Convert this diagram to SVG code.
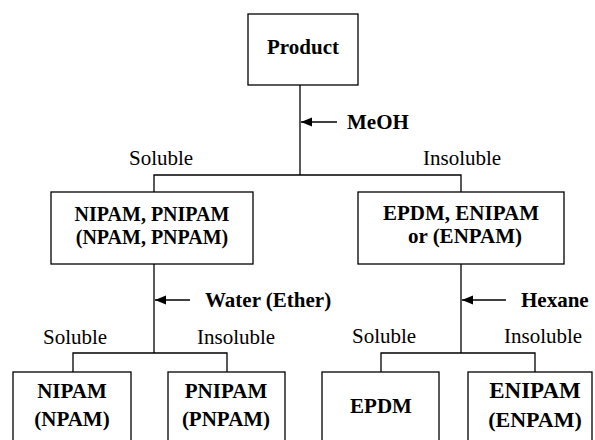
<svg xmlns="http://www.w3.org/2000/svg" width="595" height="440" viewBox="0 0 595 440">
<style>
.box{fill:#fff;stroke:#000;stroke-width:1.3}
.ln{fill:none;stroke:#000;stroke-width:1.3}
text{font-family:'Liberation Serif',Tinos,'Times New Roman',Times,'Noto Serif','DejaVu Serif',serif;font-size:21px;fill:#000}
.b{font-weight:bold;text-anchor:middle}
.bl{font-weight:bold}
</style>
<defs>
<marker id="ah" markerWidth="12" markerHeight="10" refX="11" refY="4.5" orient="auto" markerUnits="userSpaceOnUse">
<path d="M0,0 L11,4.5 L0,9 Z" fill="#000"/>
</marker>
</defs>
<g id="connectors">
<line class="ln" x1="300" y1="85" x2="300" y2="175"/>
<line class="ln" x1="337" y1="122" x2="301" y2="122" marker-end="url(#ah)"/>
<polyline class="ln" points="154,192 154,175 461,175 461,192"/>
<line class="ln" x1="154" y1="264" x2="154" y2="353"/>
<line class="ln" x1="190" y1="300" x2="155" y2="300" marker-end="url(#ah)"/>
<polyline class="ln" points="73,372 73,353 227,353 227,372"/>
<line class="ln" x1="461" y1="264" x2="461" y2="353"/>
<line class="ln" x1="506" y1="300" x2="462" y2="300" marker-end="url(#ah)"/>
<polyline class="ln" points="381,372 381,353 535,353 535,372"/>
</g>
<g id="labels">
<text class="bl" x="347" y="129">MeOH</text>
<text x="129" y="165">Soluble</text>
<text x="423" y="165">Insoluble</text>
<text class="bl" x="205" y="307">Water (Ether)</text>
<text class="bl" x="521" y="307">Hexane</text>
<text x="43" y="344">Soluble</text>
<text x="197" y="344">Insoluble</text>
<text x="352" y="343">Soluble</text>
<text x="504" y="343">Insoluble</text>
</g>
<g id="product">
<rect class="box" x="248" y="14" width="110" height="71"/>
<text class="b" x="303" y="54">Product</text>
</g>
<g id="nipam-pnipam">
<rect class="box" x="51" y="192" width="202" height="72"/>
<text class="b" x="152" y="221" style="font-size:20px">NIPAM, PNIPAM</text>
<text class="b" x="152" y="244" style="font-size:20px">(NPAM, PNPAM)</text>
</g>
<g id="epdm-enipam">
<rect class="box" x="358" y="192" width="206" height="72"/>
<text class="b" x="461" y="220">EPDM, ENIPAM</text>
<text class="b" x="465" y="243">or (ENPAM)</text>
</g>
<g id="nipam">
<rect class="box" x="13" y="372" width="118" height="90"/>
<text class="b" x="72" y="398">NIPAM</text>
<text class="b" x="72" y="426">(NPAM)</text>
</g>
<g id="pnipam">
<rect class="box" x="168" y="372" width="117" height="90"/>
<text class="b" x="226" y="398">PNIPAM</text>
<text class="b" x="226" y="426">(PNPAM)</text>
</g>
<g id="epdm">
<rect class="box" x="322" y="372" width="117" height="90"/>
<text class="b" x="381" y="413">EPDM</text>
</g>
<g id="enipam">
<rect class="box" x="468" y="372" width="124" height="90"/>
<text class="b" x="535" y="398" style="font-size:23px">ENIPAM</text>
<text class="b" x="535" y="427" style="font-size:22px">(ENPAM)</text>
</g>
</svg>
